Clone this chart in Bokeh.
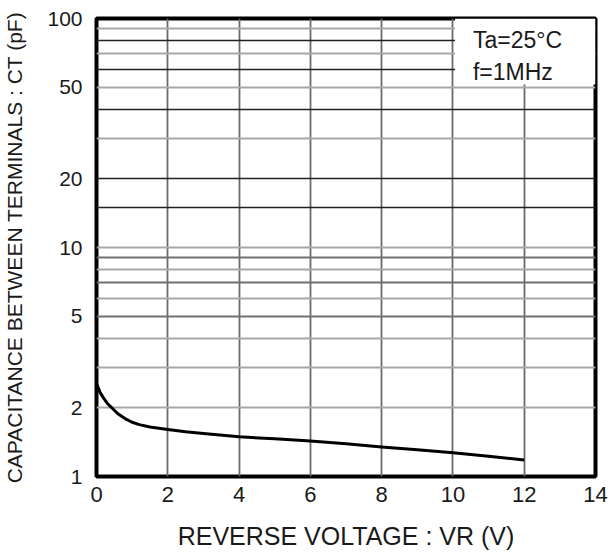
from bokeh.plotting import figure
from bokeh.models import Range1d, FixedTicker, Grid, BoxAnnotation, Label, NumeralTickFormatter
from bokeh.embed import file_html
from bokeh.resources import INLINE

# ---- data ----
voltage = [0, 0.1, 0.2, 0.3, 0.45, 0.6, 0.8, 1.0, 1.2, 1.5, 2.0, 2.5, 3.0, 4, 5, 6, 7, 8,
           9, 10, 11, 12]
capacitance = [2.55, 2.33, 2.2, 2.09, 1.98, 1.88, 1.79, 1.725, 1.685, 1.645, 1.605, 1.567,
               1.54, 1.49, 1.46, 1.43, 1.39, 1.345, 1.31, 1.27, 1.225, 1.18]

x_ticks = [0, 2, 4, 6, 8, 10, 12, 14]
y_ticks = [1, 2, 5, 10, 20, 50, 100]
x_grid = [2, 4, 6, 8, 10, 12]
y_grid_dark = [80, 60, 40, 20, 15]
y_grid_mid = [9, 7, 5]
y_grid_light = [90, 70, 50, 30, 10, 8, 6, 4, 3, 2]

note_lines = ["Ta=25°C", "f=1MHz"]
x_title = "REVERSE VOLTAGE : VR (V)"
y_title = "CAPACITANCE BETWEEN TERMINALS : CT (pF)"

FONT = "Liberation Sans"
TXT = "#1a1a1a"

p = figure(width=611, height=552, y_axis_type="log",
           x_range=Range1d(0, 14), y_range=Range1d(1, 100),
           output_backend="svg", toolbar_location=None,
           min_border_left=96, min_border_right=16, min_border_top=18, min_border_bottom=76,
           background_fill_color="white", border_fill_color="white")

p.outline_line_color = "black"
p.outline_line_width = 4

# grids
p.xgrid.ticker = FixedTicker(ticks=x_grid)
p.xgrid.grid_line_color = "#6a6a6a"
p.xgrid.grid_line_width = 1.8
p.ygrid.ticker = FixedTicker(ticks=y_grid_light)
p.ygrid.grid_line_color = "#a8a8a8"
p.ygrid.grid_line_width = 2
p.add_layout(Grid(dimension=1, ticker=FixedTicker(ticks=y_grid_mid),
                  grid_line_color="#707070", grid_line_width=1.8))
p.add_layout(Grid(dimension=1, ticker=FixedTicker(ticks=y_grid_dark),
                  grid_line_color="#222222", grid_line_width=1.6))

# axes
for ax in (p.xaxis[0], p.yaxis[0]):
    ax.axis_line_color = None
    ax.major_tick_line_color = None
    ax.minor_tick_line_color = None
    ax.major_label_text_font = FONT
    ax.major_label_text_color = TXT
    ax.axis_label_text_font = FONT
    ax.axis_label_text_font_style = "normal"
    ax.axis_label_text_color = TXT

p.xaxis.ticker = FixedTicker(ticks=x_ticks)
p.xaxis.major_label_text_font_size = "22px"
p.xaxis.major_label_standoff = 4
p.xaxis.axis_label = x_title
p.xaxis.axis_label_text_font_size = "25px"
p.xaxis.axis_label_standoff = 17

p.yaxis.ticker = FixedTicker(ticks=y_ticks)
p.yaxis.formatter = NumeralTickFormatter(format="0")
p.yaxis.major_label_text_font_size = "21px"
p.yaxis.major_label_standoff = 8
p.yaxis.axis_label = y_title
p.yaxis.axis_label_text_font_size = "21px"
p.yaxis.axis_label_standoff = 18

# annotation box (covers the grid in the upper right corner)
p.add_layout(BoxAnnotation(left=10.06, right=14, bottom=51.5, top=100,
                           fill_color="white", fill_alpha=1.0, line_color=None))

for i, t in enumerate(note_lines):
    p.add_layout(Label(x=10, y=100, x_offset=20, y_offset=-8 - 32 * i, text=t,
                       text_font=FONT, text_font_size="23px", text_color=TXT,
                       text_baseline="top", text_align="left"))

# curve
p.line(voltage, capacitance, line_color="black", line_width=3, line_join="round")

open("out.html", "w").write(file_html(p, INLINE))
